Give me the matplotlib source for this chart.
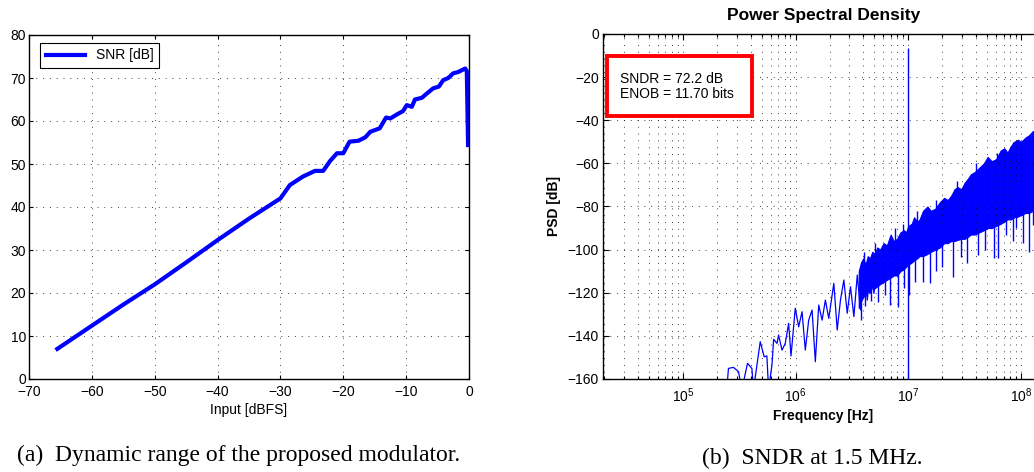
import numpy as np
import matplotlib.pyplot as plt
from matplotlib.patches import Rectangle
from matplotlib.ticker import LogLocator, NullFormatter, MultipleLocator

plt.rcParams['font.family'] = ['Liberation Sans', 'DejaVu Sans']
plt.rcParams['mathtext.fontset'] = 'custom'
plt.rcParams['mathtext.rm'] = 'Liberation Sans'
plt.rcParams['mathtext.it'] = 'Liberation Sans:italic'
plt.rcParams['mathtext.bf'] = 'Liberation Sans:bold'

# (a) dynamic range
snr_input = [-65.5, -60, -55, -50, -45, -40, -35, -30, -28.5, -26.4, -24.5, -23.2,
             -22.1, -21.0, -20.0, -19.0, -17.6, -16.5, -15.7, -14.2, -13.2, -12.5,
             -11.5, -10.5, -9.9, -9.1, -8.6, -7.5, -6.7, -5.7, -4.8, -4.1, -3.3,
             -2.5, -1.7, -0.9, -0.6, -0.35, -0.15]
snr_db = [7.0, 12.4, 17.3, 22.0, 27.1, 32.3, 37.3, 42.0, 45.1, 47.1, 48.4, 48.4,
          50.7, 52.5, 52.5, 55.2, 55.4, 56.2, 57.5, 58.3, 60.8, 60.6,
          61.5, 62.3, 63.7, 63.3, 65.0, 65.4, 66.4, 67.6, 68.0, 69.5, 70.0,
          71.1, 71.4, 72.0, 72.2, 71.6, 54.4]

# (b) PSD - sparse low-frequency trace (log10 Hz, dB)
psd_log_freq = [5.389, 5.404, 5.448, 5.493, 5.523, 5.573, 5.612, 5.626, 5.686, 5.721,
                5.745, 5.760, 5.790, 5.805, 5.835, 5.849, 5.879, 5.908, 5.938, 5.959,
                5.997, 6.027, 6.057, 6.086, 6.116, 6.146, 6.175, 6.205, 6.235, 6.264,
                6.294, 6.339, 6.369, 6.398, 6.428, 6.458, 6.487, 6.517, 6.547, 6.576,
                6.606, 6.636, 6.665, 6.695, 6.725]
psd_db = [-165, -155.1, -154.6, -156.6, -165, -152.7, -155.1, -165, -142.7, -149.7,
          -149.3, -165, -153.5, -141.6, -143.5, -139.6, -146.6, -143.5, -134.2, -149.3,
          -127.2, -135.8, -128.8, -146.6, -132.7, -128.0, -152.0, -125.7, -132.7, -123.4,
          -131.9, -115.6, -137.3, -123.4, -114.1, -129.5, -117.2, -131.1, -111.8, -128.0,
          -104.8, -123.4, -109.5, -120.3, -103.3]

# dense noise band envelopes
band_log_freq = [6.56, 6.58, 6.60, 6.62, 6.64, 6.66, 6.68, 6.70, 6.725, 6.75,
                 6.78, 6.81, 6.843, 6.87, 6.90, 6.93, 6.962, 6.98, 7.0, 7.03,
                 7.051, 7.08, 7.10, 7.13, 7.170, 7.20, 7.24, 7.28, 7.318, 7.35,
                 7.38, 7.41, 7.437, 7.47, 7.50, 7.53, 7.556, 7.59, 7.63, 7.67,
                 7.704, 7.74, 7.78, 7.82, 7.852, 7.88, 7.91, 7.94, 7.971, 8.00,
                 8.04, 8.07, 8.105, 8.15, 8.25]
band_upper = [-110, -106, -104, -107, -103, -104, -101, -102, -99, -100,
              -97, -98, -93, -96, -95, -92, -91, -92, -89, -88,
              -85, -87, -86, -82, -80, -82, -81, -78, -76, -77,
              -75, -72, -71, -72, -69, -67, -65, -64, -62, -60,
              -57, -59, -58, -54, -53, -55, -52, -50, -49, -50,
              -48, -47, -45, -46, -44]
band_lower = [-127, -124, -122, -121, -119, -120, -117, -118, -117, -116,
              -115, -114, -113, -112, -112, -110, -109, -108, -107, -106,
              -105, -104, -103, -103, -102, -101, -100, -99, -97, -97,
              -96, -96, -95.5, -95, -95, -94, -93, -93, -92, -91,
              -90, -90, -89, -88, -87, -86, -86, -85, -84.7, -84,
              -83, -83, -82, -81, -80]

# downward spikes below the band
spike_log_freq = [6.58, 6.62, 6.67, 6.73, 6.79, 6.84, 6.91, 6.96, 7.01, 7.06, 7.13,
                  7.19, 7.25, 7.30, 7.40, 7.47, 7.52, 7.62, 7.68, 7.76, 7.80, 7.87,
                  7.93, 7.96, 8.02, 8.07, 8.11]
spike_bottom = [-132.6, -126, -124, -124.1, -121, -125.7, -126.5, -118, -121, -115, -114.9,
                -115.6, -110, -108, -112.6, -103.3, -106, -102.5, -100, -104, -104, -93.2,
                -96, -90.1, -97, -100.9, -88.6]
spike_top = [-118, -115, -113, -112, -110, -108, -106, -104, -100, -98, -96,
             -94, -92, -90, -88, -86, -84, -82, -80, -78, -76, -74,
             -72, -70, -68, -66, -64]

# upward spikes above the band
peak_log_freq = [6.61, 6.70, 6.88, 6.95, 7.08, 7.25, 7.43, 7.60, 7.79, 7.93, 8.12]
peak_top = [-101, -97, -90, -88, -82, -77, -68, -60, -55, -50, -42]
peak_bottom = [-112, -110, -105, -103, -98, -92, -85, -80, -75, -70, -65]

tone_freq = 1.0e7
tone_db = -6.4

sndr_text = 'SNDR = 72.2 dB\nENOB = 11.70 bits'

W, H = 1034, 472
fig = plt.figure(figsize=(W / 100, H / 100), dpi=100)

grid_kw = dict(color='k', linestyle=(0, (1, 6)), linewidth=0.7, alpha=0.75)

# ---------- left ----------
ax1 = fig.add_axes([29 / W, 1 - 379 / H, 440 / W, 344 / H])
ax1.plot(snr_input, snr_db, color='#0000ff', lw=3.0, label='SNR [dB]',
         solid_joinstyle='round')
ax1.set_xlim(-70, 0)
ax1.set_ylim(0, 80)
ax1.xaxis.set_major_locator(MultipleLocator(10))
ax1.yaxis.set_major_locator(MultipleLocator(10))
ax1.grid(True, **grid_kw)
ax1.tick_params(direction='in', top=True, right=True, length=3, width=0.8,
                labelsize=10, pad=2)
ax1.tick_params(axis='x', pad=4)
ax1.set_xlabel('Input [dBFS]', fontsize=10, labelpad=3)
for s in ax1.spines.values():
    s.set_linewidth(1.0)
leg = ax1.legend(loc='upper left', bbox_to_anchor=(0.026, 0.977), fancybox=False,
                 edgecolor='k', framealpha=1, fontsize=10, handlelength=2.8,
                 borderpad=0.4, borderaxespad=0)
leg.get_frame().set_linewidth(0.8)

# ---------- right ----------
ax2 = fig.add_axes([603 / W, 1 - 379 / H, 441 / W, 345 / H])
ax2.plot(10 ** np.array(psd_log_freq), psd_db, color='#0000ff', lw=0.9)
ax2.fill_between(10 ** np.array(band_log_freq), band_lower, band_upper,
                 color='#0000ff', lw=0.8, edgecolor='#0000ff')
ax2.vlines(10 ** np.array(spike_log_freq), spike_bottom, spike_top,
           color='#0000ff', lw=1.0)
ax2.vlines(10 ** np.array(peak_log_freq), peak_bottom, peak_top,
           color='#0000ff', lw=1.0)
ax2.vlines(tone_freq, -160, tone_db, color='#0000ff', lw=1.0)
ax2.set_xscale('log')
ax2.set_xlim(19531, 1.6e8)
ax2.set_ylim(-160, 0)
ax2.yaxis.set_major_locator(MultipleLocator(20))
ax2.xaxis.set_major_locator(LogLocator(base=10, numticks=12))
ax2.xaxis.set_minor_locator(LogLocator(base=10, subs=np.arange(2, 10), numticks=12))
ax2.xaxis.set_minor_formatter(NullFormatter())
ax2.grid(True, which='major', **grid_kw)
ax2.grid(True, which='minor', axis='x', **grid_kw)
ax2.tick_params(which='both', direction='in', top=True, right=True, width=0.8,
                labelsize=10, pad=3)
ax2.tick_params(axis='x', pad=5)
ax2.tick_params(which='major', length=4)
ax2.tick_params(which='minor', length=2)
for s in ax2.spines.values():
    s.set_linewidth(1.0)
ax2.set_xlabel('Frequency [Hz]', fontsize=10, fontweight='bold', labelpad=3)
ax2.set_ylabel('PSD [dB]', fontsize=10, fontweight='bold', labelpad=5)
ax2.set_title('Power Spectral Density', fontsize=12.5, fontweight='bold', pad=10)

ax2.add_patch(Rectangle((0.009, 0.762), 0.329, 0.174, transform=ax2.transAxes,
                        fill=True, facecolor='white', edgecolor='#ff0000',
                        lw=2.8, zorder=5, clip_on=False))
ax2.text(0.038, 0.848, sndr_text, transform=ax2.transAxes, fontsize=10,
         va='center', ha='left', linespacing=1.15, zorder=6)

# captions
fig.text(239 / W, 1 - 455 / H, '(a)  Dynamic range of the proposed modulator.',
         family='Liberation Serif', fontsize=17, ha='center', va='center')
fig.text(812 / W, 1 - 458 / H, '(b)  SNDR at 1.5 MHz.',
         family='Liberation Serif', fontsize=17, ha='center', va='center')

fig.savefig('out.png', dpi=100)
